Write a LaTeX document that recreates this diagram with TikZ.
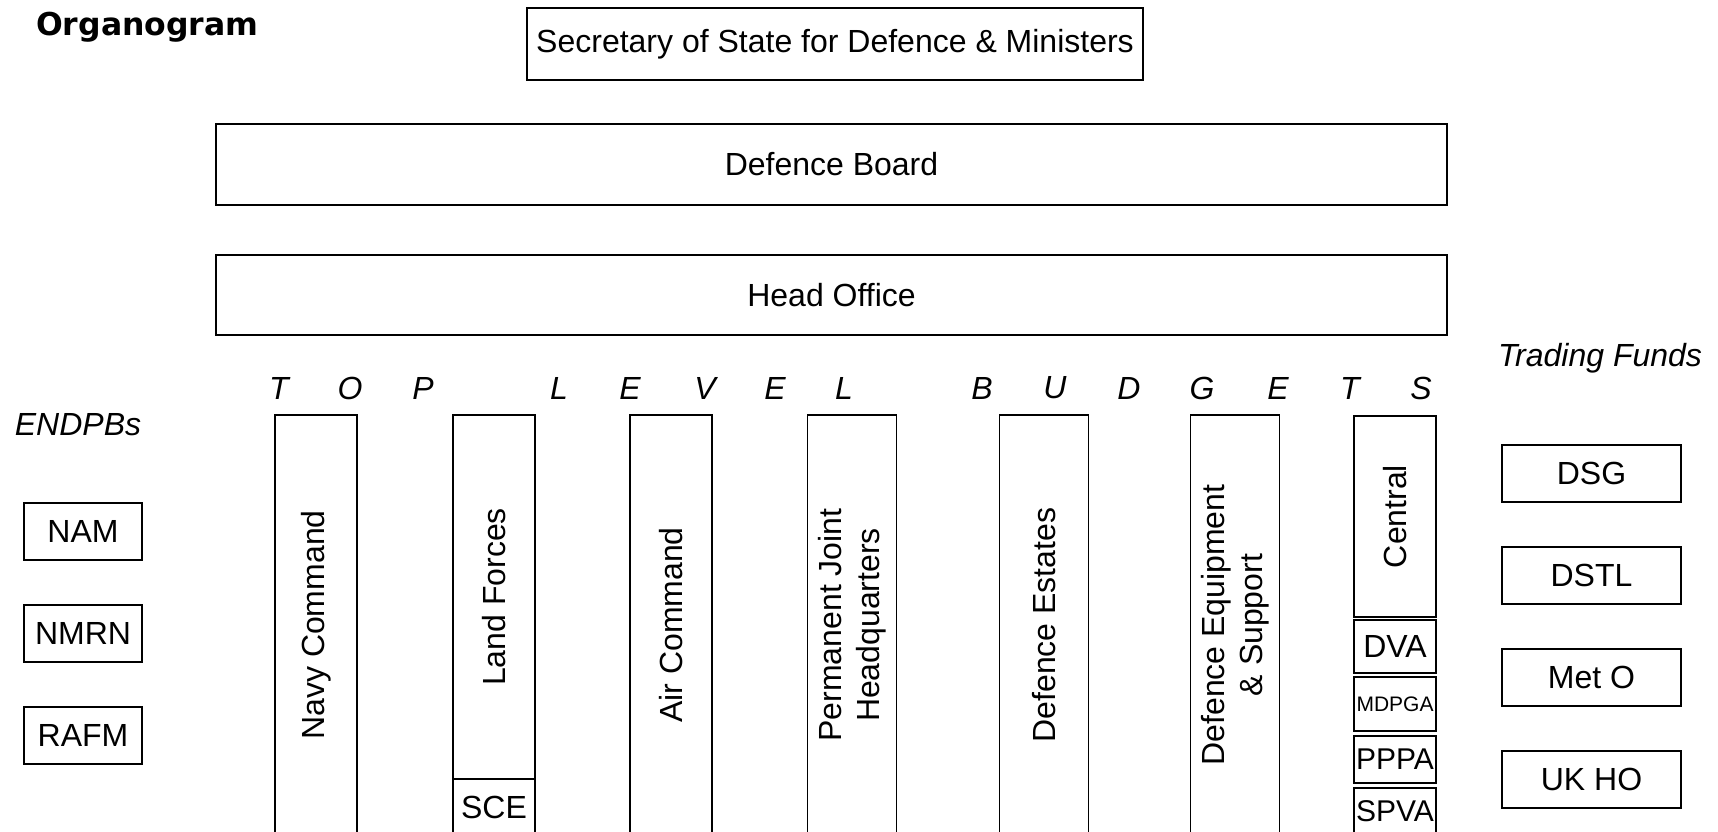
\documentclass[tikz,border=0pt]{standalone}
\usepackage{fontspec}
\setmainfont{Liberation Sans}
\newfontfamily\titlefont{DejaVu Sans}
\begin{document}
\begin{tikzpicture}[x=1pt,y=-1pt,
		every node/.style={inner sep=0pt, font=\fontsize{32}{38}\selectfont},
		box/.style={draw=black, line width=1.5pt, align=center},
		col/.style={box, rotate=90, minimum height=#1},
		col/.default=82,
		tag/.style={font=\fontsize{32}{38}\selectfont\itshape}]
		\useasboundingbox (0,0) rectangle (1718,832);
		\clip (0,0) rectangle (1718,832);
		% title and top of the tree
		\node [anchor=base west, font=\titlefont\bfseries\fontsize{31.5}{38}\selectfont] (title) at (36,36) {Organogram};
		\node [box, minimum width=616, minimum height=72] (sos) at (835,44) {Secretary of State for Defence \& Ministers};
		\node [box, minimum width=1231, minimum height=81] (board) at (831.5,164.5) {Defence Board};
		\node [box, minimum width=1231, minimum height=80] (ho) at (831.5,295) {Head Office};
		% top level budgets
		\foreach \ch/\xx in {T/279,O/350,P/423,L/559,E/630,V/705,E/775,L/844,B/982,U/1055,D/1129,G/1202,E/1278,T/1350,S/1421}
			\node [tag] (tlb-\xx) at (\xx,388) {\ch};
		\node [col, minimum width=420] (navy) at (316,625) {Navy Command};
		\node [col, minimum width=364] (land) at (494,597) {Land Forces};
		\node [box, minimum width=82, minimum height=56] (sce) at (494,807) {SCE};
		\node [col, minimum width=420] (air) at (671,625) {Air Command};
		\node [col=89, minimum width=420] (pjhq) at (852,625) {Permanent Joint\\Headquarters};
		\node [col=89, minimum width=420] (estates) at (1044,625) {Defence Estates};
		\node [col=89, minimum width=420] (des) at (1235,625) {Defence Equipment\\\& Support};
		\node [col, minimum width=201] (central) at (1395,516.5) {Central};
		\node [box, minimum width=82, minimum height=53] (dva) at (1395,646.5) {DVA};
		\node [box, minimum width=82, minimum height=54, font=\fontsize{21}{25}\selectfont] (mdpga) at (1395,704) {MDPGA};
		\node [box, minimum width=82, minimum height=47, font=\fontsize{30}{36}\selectfont] (pppa) at (1395,759.5) {PPPA};
		\node [box, minimum width=82, minimum height=47, font=\fontsize{30}{36}\selectfont] (spva) at (1395,811.5) {SPVA};
		% ENDPBs
		\node [tag] (endpbs) at (78,425) {ENDPBs};
		\foreach \nm/\yy in {NAM/531.5,NMRN/633.5,RAFM/735.5}
			\node [box, minimum width=118, minimum height=57] (endpb-\nm) at (83,\yy) {\nm};
		% trading funds
		\node [tag] (tf) at (1600,358) {Trading Funds};
		\foreach \nm/\yy in {DSG/473.5,DSTL/575.5,Met O/677.5,UK HO/779.5}
			\node [box, minimum width=179, minimum height=57] (tf-\yy) at (1591.5,\yy) {\nm};
	\end{tikzpicture}
\end{document}
